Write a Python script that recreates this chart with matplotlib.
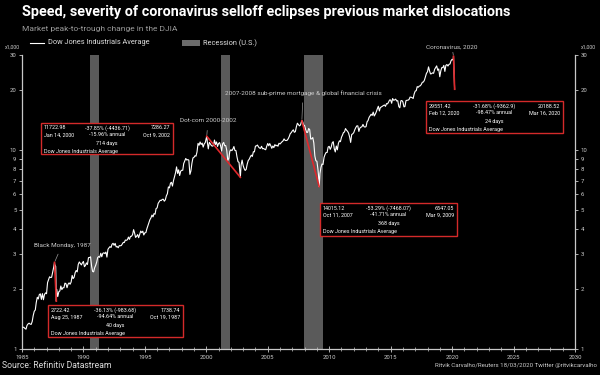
import matplotlib
matplotlib.use("Agg")
import matplotlib.pyplot as plt
from matplotlib.patches import Rectangle
from matplotlib.lines import Line2D
import pandas as pd

plt.rcParams['font.family'] = ['Roboto', 'DejaVu Sans']

# monthly closes of the Dow Jones Industrial Average (points), Jan 1985 onward
djia_1985_1994 = [
    1287, 1284, 1267, 1258, 1315, 1336, 1348, 1334, 1329, 1374, 1472, 1547,
    1571, 1709, 1819, 1784, 1877, 1893, 1775, 1898, 1768, 1878, 1914, 1896,
    2158, 2224, 2305, 2286, 2292, 2419, 2572, 2663, 2596, 1994, 1834, 1939,
    1958, 2072, 1988, 2032, 2031, 2142, 2129, 2032, 2113, 2149, 2115, 2169,
    2342, 2258, 2294, 2419, 2480, 2440, 2661, 2737, 2693, 2645, 2706, 2753,
    2591, 2627, 2707, 2657, 2877, 2881, 2905, 2614, 2453, 2442, 2560, 2634,
    2736, 2882, 2914, 2888, 3028, 2907, 3025, 3044, 3017, 3069, 2895, 3169,
    3224, 3268, 3236, 3359, 3397, 3319, 3394, 3257, 3272, 3226, 3306, 3301,
    3310, 3371, 3435, 3428, 3527, 3516, 3540, 3651, 3555, 3681, 3684, 3754,
    3978, 3832, 3636, 3682, 3758, 3625, 3765, 3913, 3843, 3908, 3739, 3834,
]
djia_1995_2004 = [
    3844, 4011, 4158, 4321, 4465, 4556, 4709, 4611, 4789, 4756, 5075, 5117,
    5395, 5486, 5588, 5569, 5644, 5655, 5529, 5616, 5882, 6029, 6522, 6448,
    6813, 6878, 6584, 7009, 7331, 7673, 8223, 7622, 7945, 7442, 7823, 7908,
    7907, 8546, 8800, 9063, 8900, 8952, 8883, 7539, 7843, 8592, 9117, 9181,
    9359, 9307, 9786, 10789, 10560, 10971, 10655, 10829, 10337, 10729, 10878, 11497,
    10941, 10128, 10922, 10734, 10522, 10448, 10522, 11215, 10651, 10971, 10415, 10788,
    10887, 10495, 9879, 10735, 10912, 10502, 10523, 9950, 8848, 9075, 9852, 10022,
    9920, 10106, 10404, 9946, 9925, 9243, 8737, 8664, 7592, 8397, 8896, 8342,
    8054, 7891, 7992, 8480, 8850, 8985, 9234, 9416, 9275, 9801, 9782, 10454,
    10488, 10584, 10358, 10226, 10188, 10435, 10140, 10174, 10080, 10027, 10428, 10783,
]
djia_2005_2014 = [
    10490, 10766, 10504, 10193, 10467, 10275, 10641, 10482, 10569, 10440, 10806, 10718,
    10865, 10993, 11109, 11367, 11168, 11150, 11186, 11381, 11679, 12081, 12222, 12463,
    12622, 12269, 12354, 13063, 13628, 13409, 13212, 13358, 13896, 13930, 13372, 13265,
    12650, 12266, 12263, 12820, 12638, 11350, 11378, 11544, 10851, 9325, 8829, 8776,
    8001, 7063, 7609, 8168, 8500, 8447, 9172, 9496, 9712, 9713, 10345, 10428,
    10067, 10325, 10857, 11009, 10137, 9774, 10466, 10015, 10788, 11118, 11006, 11578,
    11892, 12226, 12320, 12811, 12570, 12414, 12143, 11614, 10913, 11955, 12046, 12218,
    12633, 12952, 13212, 13214, 12393, 12880, 13009, 13091, 13437, 13096, 13026, 13104,
    13861, 14054, 14579, 14840, 15116, 14910, 15500, 14810, 15130, 15546, 16086, 16577,
    15699, 16322, 16458, 16581, 16717, 16827, 16563, 17098, 17043, 17391, 17828, 17823,
]
djia_2015_2020 = [
    17165, 18133, 17776, 17841, 18011, 17620, 17690, 16528, 16285, 17664, 17720, 17425,
    16466, 16517, 17685, 17774, 17787, 17930, 18432, 18401, 18308, 18142, 19124, 19763,
    19864, 20812, 20663, 20941, 21009, 21350, 21891, 21948, 22405, 23377, 24272, 24719,
    26149, 25029, 24103, 24163, 24416, 24271, 25415, 25965, 26458, 25116, 25538, 23327,
    24999, 25916, 25929, 26593, 24815, 26600, 26864, 26403, 26917, 27046, 28051, 28538,
    28256,
]

# peak / trough of each selloff
peak_dates = ["1987-08-25", "2000-01-14", "2007-10-11", "2020-02-12"]
peak_values = [2722.42, 11722.98, 14015.12, 29551.42]
trough_dates = ["1987-10-19", "2002-10-09", "2009-03-09", "2020-03-16"]
trough_values = [1738.74, 7286.27, 6547.05, 20188.52]
pct_change = ["-36.13% (-983.68)", "-37.85% (-4436.71)", "-53.29% (-7468.07)", "-31.68% (-9362.9)"]
annual = ["-94.64% annual", "-15.96% annual", "-41.71% annual", "-98.47% annual"]
days = ["40 days", "714 days", "368 days", "24 days"]
date_labels_peak = ["Aug 25, 1987", "Jan 14, 2000", "Oct 11, 2007", "Feb 12, 2020"]
date_labels_trough = ["Oct 19, 1987", "Oct 9, 2002", "Mar 9, 2009", "Mar 16, 2020"]
event_labels = ["Black Monday, 1987", "Dot-com 2000-2002",
                "2007-2008 sub-prime mortgage & global financial crisis", "Coronavirus, 2020"]

recession_starts = ["1990-07-01", "2001-03-01", "2007-12-01"]
recession_ends = ["1991-03-31", "2001-11-30", "2009-06-30"]

monthly = djia_1985_1994 + djia_1995_2004 + djia_2005_2014 + djia_2015_2020
months = pd.date_range("1985-01-31", periods=len(monthly), freq="ME")
series = pd.concat([
    pd.Series(monthly, index=months, dtype=float),
    pd.Series(peak_values, index=pd.to_datetime(peak_dates)),
    pd.Series(trough_values, index=pd.to_datetime(trough_dates)),
]).sort_index() / 1000.0

W, H = 600, 375


def px(x, y):
    return (x / W, 1 - y / H)


fig = plt.figure(figsize=(6, 3.75), dpi=100, facecolor='black')
ax = fig.add_axes([22 / W, 1 - 349 / H, 553 / W, 294 / H])
ax.set_facecolor('black')

for s, e in zip(recession_starts, recession_ends):
    ax.axvspan(pd.Timestamp(s), pd.Timestamp(e), color='#5a5a5a', lw=0, zorder=1)

ax.plot(series.index, series.values, color='white', lw=0.8, zorder=3)

for pd0, pv, td, tv in zip(peak_dates, peak_values, trough_dates, trough_values):
    ax.plot([pd.Timestamp(pd0), pd.Timestamp(td)], [pv / 1000, tv / 1000],
            color='#e0282c', lw=1.2, zorder=4)

ax.set_yscale('log')
ax.set_ylim(1, 30)
ax.set_xlim(pd.Timestamp("1985-01-01"), pd.Timestamp("2030-01-01"))

yt = [1, 2, 3, 4, 5, 6, 7, 8, 9, 10, 20, 30]
ax.set_yticks(yt)
ax.set_yticklabels([str(v) for v in yt])
ax.yaxis.set_minor_locator(matplotlib.ticker.NullLocator())
ax.tick_params(axis='y', which='both', left=True, right=True, labelleft=True,
               labelright=True, direction='out', length=2.5, width=0.6,
               colors='#cccccc', labelsize=4.3, pad=1.5)

major_years = list(range(1985, 2031, 5))
ax.set_xticks([pd.Timestamp(f"{y}-01-01") for y in major_years])
ax.set_xticklabels([str(y) for y in major_years])
ax.set_xticks([pd.Timestamp(f"{y}-01-01") for y in range(1985, 2031)], minor=True)
ax.tick_params(axis='x', which='major', direction='inout', length=4, width=0.6,
               colors='#cccccc', labelsize=4.3, pad=2)
ax.tick_params(axis='x', which='minor', direction='inout', length=2.5, width=0.5,
               colors='#cccccc')

ax.spines['top'].set_visible(False)
for side in ['left', 'right', 'bottom']:
    ax.spines[side].set_color('#c8c8c8')
    ax.spines[side].set_linewidth(0.9)

fig.text(*px(12, 47), "x1,000", color='#cccccc', fontsize=3.8, ha='center', va='center')
fig.text(*px(588, 47), "x1,000", color='#cccccc', fontsize=3.8, ha='center', va='center')

# title block
fig.text(*px(22, 12), "Speed, severity of coronavirus selloff eclipses previous market dislocations",
         color='white', fontsize=10.4, fontweight='bold', ha='left', va='center')
fig.text(*px(22, 29), "Market peak-to-trough change in the DJIA",
         color='#9a9a9a', fontsize=6.0, ha='left', va='center')

# legend
fig.add_artist(Line2D([30 / W, 44 / W], [1 - 43 / H, 1 - 43 / H], color='white', lw=0.8))
fig.text(*px(48, 43), "Dow Jones Industrials Average", color='#dddddd', fontsize=5.3,
         ha='left', va='center')
fig.add_artist(Rectangle(px(182, 46), 18 / W, 6 / H, transform=fig.transFigure,
                         facecolor='#6b6b6b', edgecolor='none'))
fig.text(*px(203, 43), "Recession (U.S.)", color='#dddddd', fontsize=5.3,
         ha='left', va='center')

# event labels with pointer lines
label_pos = [(62, 245), (208, 121), (303, 93), (452, 47)]
for name, d, v, (lx, ly) in zip(event_labels, peak_dates, peak_values, label_pos):
    ax.annotate(name, xy=(pd.Timestamp(d), v / 1000), xycoords='data',
                xytext=px(lx, ly), textcoords='figure fraction',
                color='#cccccc', fontsize=4.6, ha='center', va='center',
                arrowprops=dict(arrowstyle='-', color='#999999', lw=0.5,
                                shrinkA=3, shrinkB=1))

# red-bordered stat boxes (left, top, right, bottom in pixels)
boxes = [(48, 305, 183, 337), (41, 123, 173, 154), (320, 203, 457, 236), (426, 101, 563, 133)]
for i, (x0, y0, x1, y1) in enumerate(boxes):
    fig.add_artist(Rectangle(px(x0, y1), (x1 - x0) / W, (y1 - y0) / H,
                             transform=fig.transFigure, facecolor='black',
                             edgecolor='#d42a2a', lw=1.0, zorder=5))
    cx = (x0 + x1) / 2
    kw = dict(color='white', fontsize=3.9, va='center', zorder=6)
    fig.text(*px(x0 + 3, y0 + 5), f"{peak_values[i]:.2f}", ha='left', **kw)
    fig.text(*px(cx, y0 + 5), pct_change[i], ha='center', **kw)
    fig.text(*px(x1 - 3, y0 + 5), f"{trough_values[i]:.2f}", ha='right', **kw)
    fig.text(*px(x0 + 3, y0 + 12), date_labels_peak[i], ha='left', **kw)
    fig.text(*px(cx, y0 + 12), annual[i], ha='center', **kw)
    fig.text(*px(x1 - 3, y0 + 12), date_labels_trough[i], ha='right', **kw)
    fig.text(*px(cx, y0 + 20), days[i], ha='center', **kw)
    fig.text(*px(x0 + 3, y0 + 28), "Dow Jones Industrials Average", ha='left', **kw)

# footer
fig.text(*px(2, 366), "Source: Refinitiv Datastream", color='#dddddd', fontsize=6.2,
         ha='left', va='center')
fig.text(*px(597, 366), "Ritvik Carvalho/Reuters 18/03/2020 Twitter @ritvikcarvalho",
         color='#cccccc', fontsize=4.4, ha='right', va='center')

fig.savefig("out.png", dpi=100, facecolor='black')
